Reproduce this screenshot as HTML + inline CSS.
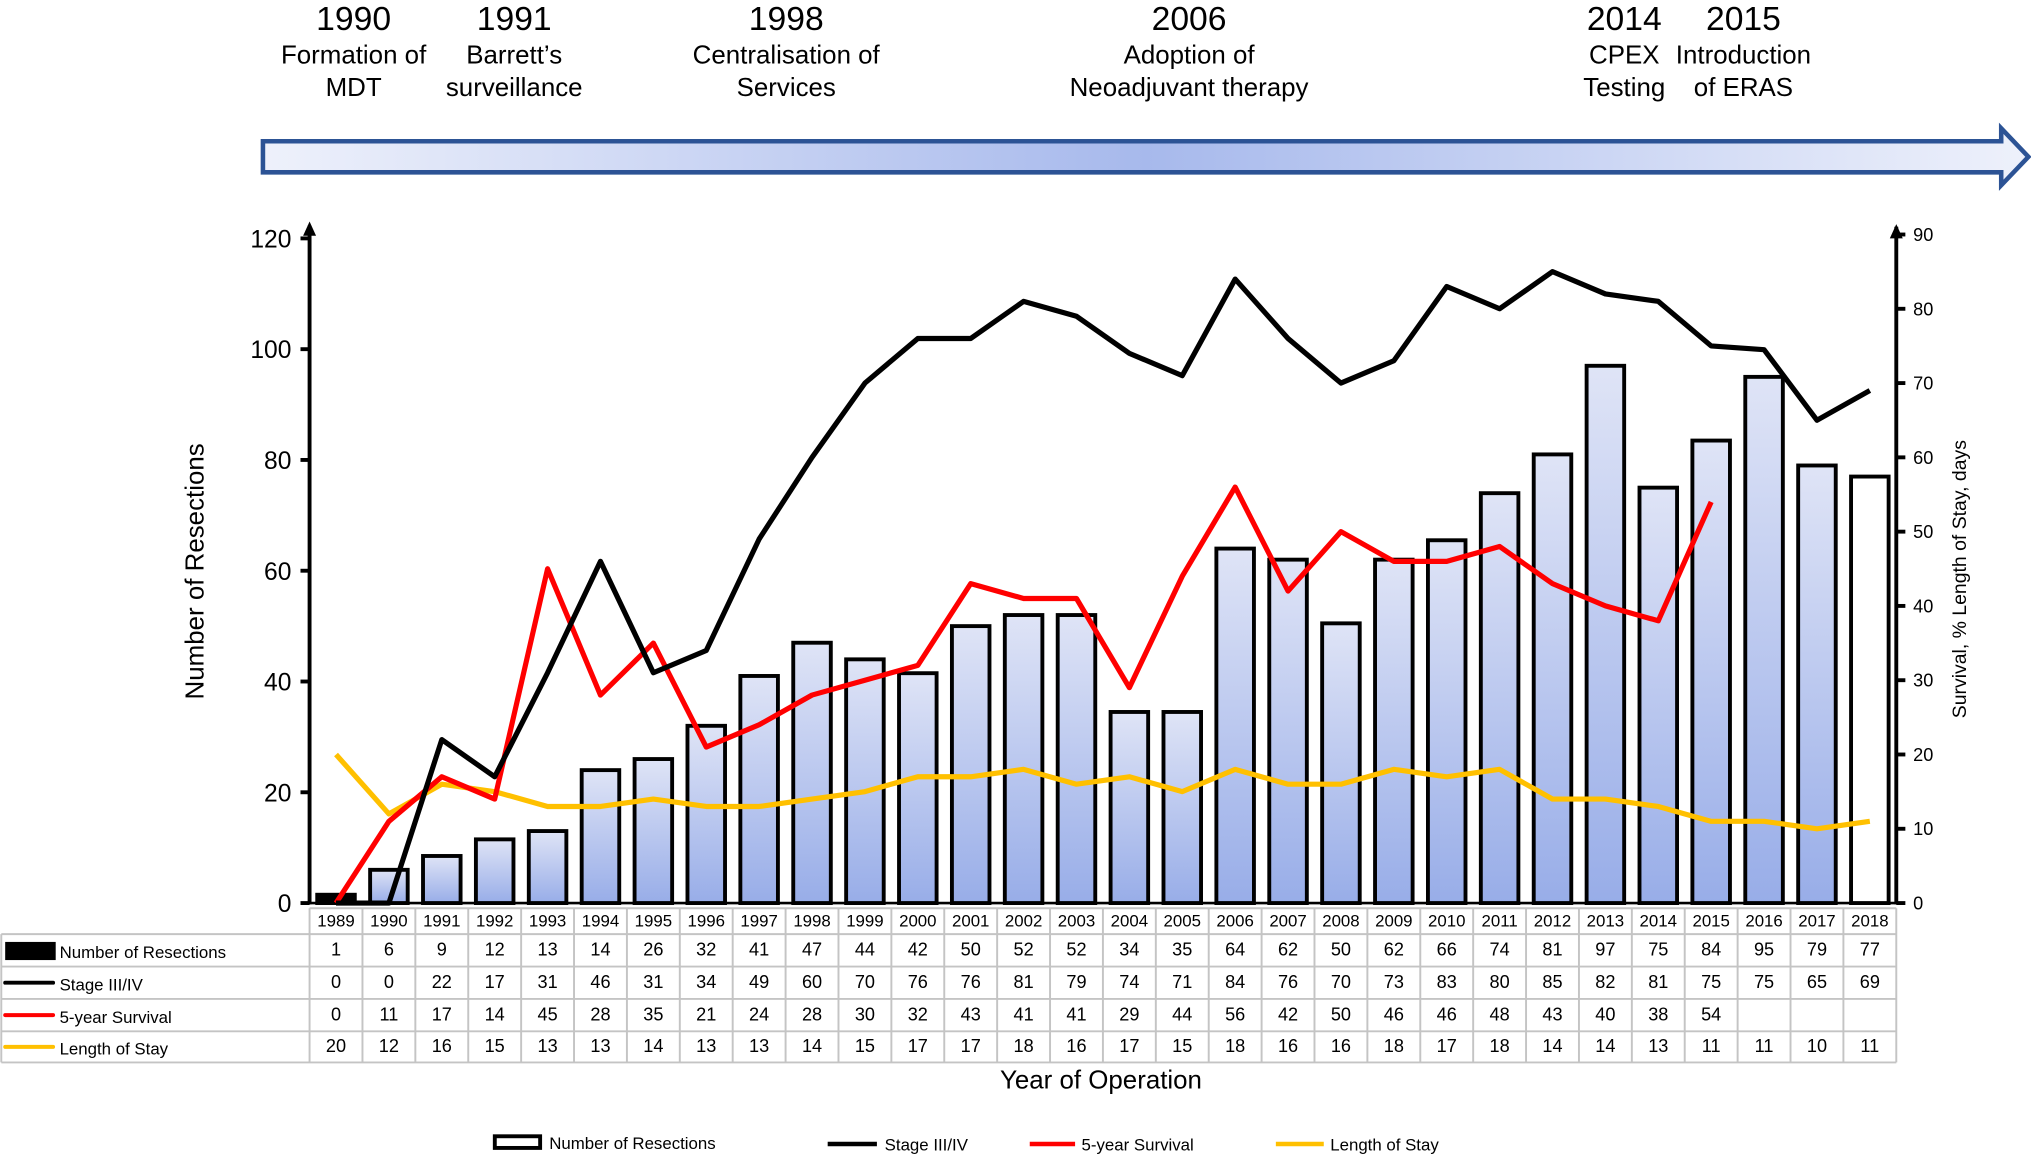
<!DOCTYPE html>
<html><head><meta charset="utf-8"><style>
html,body{margin:0;padding:0;background:#fff;}
svg{display:block;font-family:"Liberation Sans",Arial,sans-serif;}
</style></head><body>
<svg id="chart" width="2031" height="1157" viewBox="0 0 1568 893" preserveAspectRatio="none" xmlns="http://www.w3.org/2000/svg">
<defs>
<linearGradient id="barGrad" x1="0" y1="0" x2="0" y2="1"><stop offset="0" stop-color="#dfe4f6"/><stop offset="1" stop-color="#98ade8"/></linearGradient>
<linearGradient id="arrowGrad" x1="0" y1="0" x2="1" y2="0"><stop offset="0" stop-color="#eef1fb"/><stop offset="0.5" stop-color="#a7b9ec"/><stop offset="1" stop-color="#eef1fb"/></linearGradient>
</defs>
<g id="timeline">
<path d="M203,109 L1545,109 L1545,99 L1566,121 L1545,143 L1545,133 L203,133 Z" fill="url(#arrowGrad)" stroke="#2c5395" stroke-width="3.5"/>
</g>
<g id="plot"></g>
<g id="table"></g>
<g id="legend"></g>
</svg>
<script>
const years=[1989,1990,1991,1992,1993,1994,1995,1996,1997,1998,1999,2000,2001,2002,2003,2004,2005,2006,2007,2008,2009,2010,2011,2012,2013,2014,2015,2016,2017,2018];
const resections=[1,6,9,12,13,14,26,32,41,47,44,42,50,52,52,34,35,64,62,50,62,66,74,81,97,75,84,95,79,77];
const barValues=[1.5,6,8.5,11.5,13,24,26,32,41,47,44,41.5,50,52,52,34.5,34.5,64,62,50.5,62,65.5,74,81,97,75,83.5,95,79,77];
const stage=[0,0,22,17,31,46,31,34,49,60,70,76,76,81,79,74,71,84,76,70,73,83,80,85,82,81,75,74.5,65,69];
const survival=[0,11,17,14,45,28,35,21,24,28,30,32,43,41,41,29,44,56,42,50,46,46,48,43,40,38,54,null,null,null];
const stay=[20,12,16,15,13,13,14,13,13,14,15,17,17,18,16,17,15,18,16,16,18,17,18,14,14,13,11,11,10,11];
const stageTable=[0,0,22,17,31,46,31,34,49,60,70,76,76,81,79,74,71,84,76,70,73,83,80,85,82,81,75,75,65,69];
const leftTicks=[0,20,40,60,80,100,120];
const rightTicks=[0,10,20,30,40,50,60,70,80,90];
const milestones=[{y:"1990",l1:"Formation of",l2:"MDT",x:273},{y:"1991",l1:"Barrett\u2019s",l2:"surveillance",x:397},{y:"1998",l1:"Centralisation of",l2:"Services",x:607},{y:"2006",l1:"Adoption of",l2:"Neoadjuvant therapy",x:918},{y:"2014",l1:"CPEX",l2:"Testing",x:1254},{y:"2015",l1:"Introduction",l2:"of ERAS",x:1346}];
const NS="http://www.w3.org/2000/svg";
const X0=239,X1=1464,Y0=697,YT=184,YR=181;
const colW=(X1-X0)/years.length;
const xs=i=>X0+colW*(i+0.5);
const yL=v=>Y0-(v/120)*(Y0-YT);
const yR=v=>Y0-(v/90)*(Y0-YR);
function mk(parent,tag,attrs,text){const e=document.createElementNS(NS,tag);for(const k in attrs)e.setAttribute(k,attrs[k]);if(text!==undefined)e.textContent=text;parent.appendChild(e);return e;}
const tl=document.getElementById('timeline');
milestones.forEach(m=>{
 let t=mk(tl,'text',{x:m.x,y:23,'font-size':26,'text-anchor':'middle',fill:'#000'},m.y);
 
 
 t=mk(tl,'text',{x:m.x,y:49,'font-size':20,'text-anchor':'middle',fill:'#000'},m.l1);
 
 
 t=mk(tl,'text',{x:m.x,y:74,'font-size':20,'text-anchor':'middle',fill:'#000'},m.l2);
 
 
});
const plot=document.getElementById('plot');
barValues.forEach((v,i)=>{
 const fill=i===0?'#000':(i===years.length-1?'#fff':'url(#barGrad)');
 const r=mk(plot,'rect',{x:xs(i)-14.5,y:yL(v),width:29,height:Y0-yL(v),fill:fill,stroke:'#000','stroke-width':3});
 
 
});
let ax=mk(plot,'path',{d:`M${X0},${Y0+1} L${X0},${YT-10}`,stroke:'#000','stroke-width':3,fill:'none'});


mk(plot,'path',{d:`M${X0-5},${YT-2} L${X0},${YT-13} L${X0+5},${YT-2} Z`,fill:'#000'});
leftTicks.forEach(v=>{
 mk(plot,'line',{x1:X0-7,x2:X0,y1:yL(v),y2:yL(v),stroke:'#000','stroke-width':3});
 const t=mk(plot,'text',{x:X0-14,y:yL(v)+7,'font-size':19,'text-anchor':'end'},v);
 
 
});
ax=mk(plot,'path',{d:`M${X1},${Y0+1} L${X1},${YR-6}`,stroke:'#000','stroke-width':3,fill:'none'});


mk(plot,'path',{d:`M${X1-5},${YR+3} L${X1},${YR-8} L${X1+5},${YR+3} Z`,fill:'#000'});
rightTicks.forEach(v=>{
 mk(plot,'line',{x1:X1,x2:X1+7,y1:yR(v),y2:yR(v),stroke:'#000','stroke-width':3});
 const t=mk(plot,'text',{x:X1+13,y:yR(v)+5,'font-size':14},v);
 
 
});
mk(plot,'line',{x1:X0,x2:X1,y1:Y0,y2:Y0,stroke:'#000','stroke-width':2});
function line(data,color,name){
 let d='';let pen=false;
 data.forEach((v,i)=>{if(v===null){pen=false;return;}d+=(pen?'L':'M')+xs(i)+','+yR(v)+' ';pen=true;});
 const p=mk(plot,'path',{d:d,stroke:color,'stroke-width':4,fill:'none','stroke-linejoin':'round'});
 
 
}
line(stay,'#ffc000','length-of-stay-line');
line(survival,'#ff0000','survival-line');
line(stage,'#000000','stage-line');
let t=mk(plot,'text',{x:0,y:0,'font-size':20,'text-anchor':'middle',transform:'translate(157,441) rotate(-90)'},'Number of Resections');


t=mk(plot,'text',{x:0,y:0,'font-size':15,'text-anchor':'middle',transform:'translate(1518,447) rotate(-90)'},'Survival, % Length of Stay, days');


t=mk(plot,'text',{x:850,y:840,'font-size':20,'text-anchor':'middle'},'Year of Operation');


const tb=document.getElementById('table');
const rowsY=[701,721,746,771,796,820];
const gc='#c4c4c4';
mk(tb,'line',{x1:X0,x2:X1,y1:rowsY[0],y2:rowsY[0],stroke:gc,'stroke-width':1.5});
for(let r=1;r<rowsY.length;r++)mk(tb,'line',{x1:1,x2:X1,y1:rowsY[r],y2:rowsY[r],stroke:gc,'stroke-width':1.5});
mk(tb,'line',{x1:1,x2:1,y1:rowsY[1],y2:rowsY[5],stroke:gc,'stroke-width':1.5});
for(let i=0;i<=years.length;i++){const x=X0+colW*i;mk(tb,'line',{x1:x,x2:x,y1:rowsY[0],y2:rowsY[5],stroke:gc,'stroke-width':1.5});}
const rowData=[resections,stageTable,survival,stay];
const rowNames=['Number of Resections','Stage III/IV','5-year Survival','Length of Stay'];
const rowColors=['#000','#000','#ff0000','#ffc000'];
years.forEach((y,i)=>{
 const c=mk(tb,'text',{x:xs(i),y:715,'font-size':13,'text-anchor':'middle'},y);
 
 
});
rowData.forEach((arr,r)=>{
 const ty=(rowsY[r+1]+rowsY[r+2])/2+5;
 if(r===0)mk(tb,'rect',{x:4,y:727,width:39,height:14,fill:'#000'});
 else mk(tb,'line',{x1:4,x2:41,y1:ty-5,y2:ty-5,stroke:rowColors[r],'stroke-width':3,'stroke-linecap':'round'});
 const l=mk(tb,'text',{x:46,y:ty+1,'font-size':13},rowNames[r]);
 
 
 arr.forEach((v,i)=>{if(v===null)return;
  const c=mk(tb,'text',{x:xs(i),y:ty-1,'font-size':14,'text-anchor':'middle'},v);
  
  
 });
});
const lg=document.getElementById('legend');
mk(lg,'rect',{x:382,y:877,width:35,height:9,fill:'#fff',stroke:'#000','stroke-width':3});
const items=[{x1:639,x2:677,c:'#000',tx:683,t:'Stage III/IV'},{x1:795,x2:830,c:'#ff0000',tx:835,t:'5-year Survival'},{x1:985,x2:1022,c:'#ffc000',tx:1027,t:'Length of Stay'}];
let le=mk(lg,'text',{x:424,y:887,'font-size':13},'Number of Resections');


items.forEach(it=>{
 mk(lg,'line',{x1:it.x1,x2:it.x2,y1:883,y2:883,stroke:it.c,'stroke-width':3.5});
 const e=mk(lg,'text',{x:it.tx,y:888,'font-size':13},it.t);
 
 
});
</script>
</body></html>
